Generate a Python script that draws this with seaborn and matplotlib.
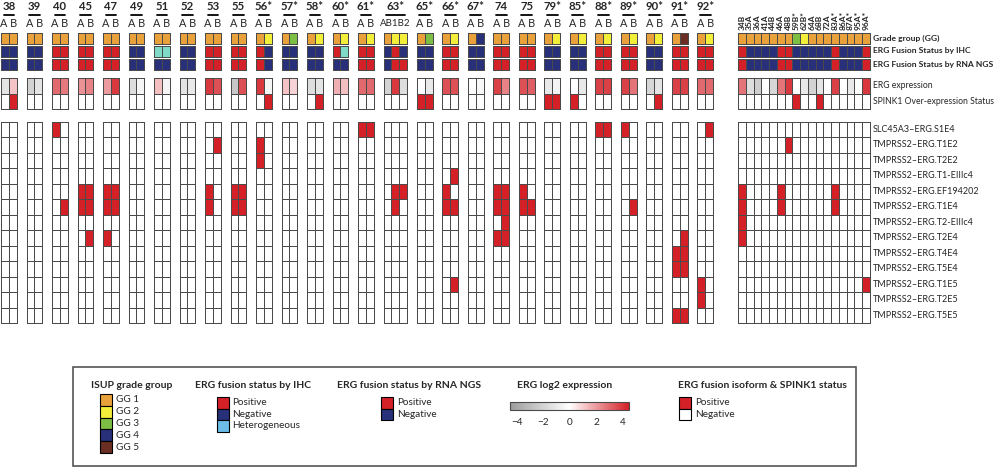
import numpy as np
import matplotlib
matplotlib.use("Agg")
import matplotlib.pyplot as plt
import seaborn as sns
from matplotlib.colors import ListedColormap, LinearSegmentedColormap, Normalize
from matplotlib.patches import Rectangle
from matplotlib.lines import Line2D
import matplotlib.cm as cm

sns.set_style("white")
plt.rcParams['font.family'] = ['Lato', 'DejaVu Sans']

# ---------------- data ----------------
group_names = ["38", "39", "40", "45", "47", "49", "51", "52", "53", "55", "56*", "57*", "58*",
               "60*", "61*", "63*", "65*", "66*", "67*", "74", "75", "79*", "85*", "88*", "89*",
               "90*", "91*", "92*"]
group_subs = [["A", "B"]] * 15 + [["A", "B1", "B2"]] + [["A", "B"]] * 12

group_gg = [[1, 1], [1, 1], [1, 1], [1, 1], [1, 1], [1, 1], [1, 1], [1, 1], [1, 1], [1, 1],
            [1, 2], [1, 3], [1, 2], [1, 2], [1, 2], [1, 2, 2], [1, 3], [1, 2], [1, 4], [1, 1],
            [1, 1], [1, 2], [1, 2], [1, 2], [1, 2], [1, 2], [1, 5], [1, 2]]
group_ihc = ["NN", "NN", "PP", "PP", "PP", "NN", "HH", "NN", "PP", "PP", "PN", "NN", "NN",
             "PH", "PP", "NPN", "NN", "PP", "NN", "PP", "PP", "NN", "NN", "PP", "PP", "NN", "PP", "PP"]
group_ngs = ["NN", "NN", "PP", "PP", "PP", "NN", "NN", "NN", "PP", "PP", "PN", "NN", "NN",
             "NN", "PP", "NPP", "NN", "PP", "NN", "PP", "PP", "NN", "NN", "PP", "PP", "NN", "PP", "PP"]
group_erg = [[-1.2, 1.2], [-2.0, -1.2], [3.0, 2.7], [2.2, 2.5], [2.0, 4.0], [-1.5, -0.4],
             [1.3, -0.5], [-1.2, -1.0], [4.0, 3.5], [-2.5, 3.5], [4.0, -0.4], [1.2, 0.9],
             [-1.5, -1.2], [1.6, 1.3], [3.0, 3.0], [-2.0, 4.0, -1.5], [0.0, -1.0], [3.5, 3.5],
             [0.0, -0.3], [3.8, 2.5], [3.5, 3.2], [-1.0, -0.5], [0.0, -1.0], [3.8, 3.8],
             [3.8, 2.8], [-1.8, -1.2], [3.8, 3.8], [3.0, 3.0]]

single_samples = ["34B", "35A", "36A", "41A", "44B", "46A", "48B", "59B*", "62B*", "64A", "68B",
                  "72A", "83A*", "86A*", "87A*", "95A*", "96A*"]
single_gg = [1, 1, 1, 1, 1, 1, 1, 3, 2, 1, 1, 1, 1, 1, 1, 1, 1]
single_ihc = "PNNNNPPNNNNNPNNNP"
single_ngs = "PNNNNPPNNNNNPNNNP"
single_erg = [2.8, -1.5, -2.2, 0.0, -1.8, 2.8, 4.0, 0.0, -1.0, -2.0, -1.2, 0.0, 3.8, 0.0,
              -1.0, 0.0, 4.0]

spink1_positive = ["38B", "56B", "58B", "65A", "65B", "79A", "79B", "85A", "90B", "59B", "68B"]

fusion_names = ["SLC45A3\u2013ERG.S1E4", "TMPRSS2\u2013ERG.T1E2", "TMPRSS2\u2013ERG.T2E2",
                "TMPRSS2\u2013ERG.T1-EIIIc4", "TMPRSS2\u2013ERG.EF194202", "TMPRSS2\u2013ERG.T1E4",
                "TMPRSS2\u2013ERG.T2-EIIIc4", "TMPRSS2\u2013ERG.T2E4", "TMPRSS2\u2013ERG.T4E4",
                "TMPRSS2\u2013ERG.T5E4", "TMPRSS2\u2013ERG.T1E5", "TMPRSS2\u2013ERG.T2E5",
                "TMPRSS2\u2013ERG.T5E5"]
fusion_hits = {  # sample -> fusion rows (1-based) that are positive
    "40A": [1], "40B": [6], "45A": [5, 6], "45B": [5, 6, 8], "47A": [5, 6, 8], "47B": [5, 6],
    "53A": [5, 6], "53B": [2], "55A": [5, 6], "55B": [5, 6], "56A": [2, 3], "61A": [1],
    "61B": [1], "63B1": [5, 6], "63B2": [5], "66A": [5, 6], "66B": [4, 6, 11],
    "74A": [5, 6, 8], "74B": [5, 6, 7, 8], "75A": [5, 6], "75B": [6], "88A": [1], "88B": [1],
    "89A": [1], "89B": [6], "91A": [9, 10, 13], "91B": [8, 9, 10, 13], "92A": [11, 12],
    "92B": [1], "34B": [5, 6, 7, 8], "46A": [5, 6], "48B": [2], "83A": [5, 6], "96A": [11],
}

row_labels_top = ["Grade group (GG)", "ERG Fusion Status by IHC", "ERG Fusion Status by RNA NGS"]
row_labels_expr = ["ERG expression", "SPINK1 Over-expression Status"]

gg_legend = ["GG 1", "GG 2", "GG 3", "GG 4", "GG 5"]
ihc_legend = ["Positive", "Negative", "Heterogeneous"]
ngs_legend = ["Positive", "Negative"]
iso_legend = ["Positive", "Negative"]
cbar_ticks = [-4, -2, 0, 2, 4]

# ---------------- styles ----------------
GG_COL = ["#E9A23B", "#F2EE3A", "#7DBE45", "#28307A", "#6A2F22"]
RED = "#D42027"
NAVY = "#28307A"
HET = "#7FDAC8"
HET_LEG = "#6BBDE8"
EDGE = "#4a4a4a"
LW = 0.55
top_cmap = ListedColormap(GG_COL + [RED, NAVY, HET])
status_code = {"P": 5, "N": 6, "H": 7}
expr_cmap = LinearSegmentedColormap.from_list("erg", [(0, "#9c9c9c"), (0.5, "#ffffff"), (1, RED)])
EXPR_MIN, EXPR_MAX = -4.5, 4.5
fus_cmap = ListedColormap(["#ffffff", RED])

W, H = 1000, 468
fig = plt.figure(figsize=(10, 4.68), dpi=100)

def add_ax(x0, y0, x1, y1):
    ax = fig.add_axes([x0 / W, 1 - y1 / H, (x1 - x0) / W, (y1 - y0) / H])
    return ax

def heat(ax, mat, cmap, vmin, vmax):
    sns.heatmap(np.asarray(mat, dtype=float), ax=ax, cmap=cmap, vmin=vmin, vmax=vmax, cbar=False,
                linewidths=LW, linecolor=EDGE, xticklabels=False, yticklabels=False)
    for c in ax.collections:
        c.set_clip_on(False)
    ax.set_xlabel("")
    ax.set_ylabel("")

TOP_ROWS = [(32.5, 43.5), (45.5, 56.5), (58.5, 69.5)]
EXPR_Y = (78.0, 109.0)
FUS_Y = (121.5, 323.0)
CELL_W = 7.85
GAP = 9.8
X0 = 1.0
RIGHT_X = (738.0, 870.0)

ov = fig.add_axes([0, 0, 1, 1])
ov.set_xlim(0, W)
ov.set_ylim(H, 0)
ov.axis("off")
ov.set_zorder(5)

def draw_block(x0, x1, keys, gg, ihc, ngs, erg):
    n = len(keys)
    rows = [[g - 1 for g in gg], [status_code[s] for s in ihc], [status_code[s] for s in ngs]]
    for (y0, y1), r in zip(TOP_ROWS, rows):
        heat(add_ax(x0, y0, x1, y1), [r], top_cmap, -0.5, 7.5)
    spink = [EXPR_MAX if k in spink1_positive else 0.0 for k in keys]
    heat(add_ax(x0, EXPR_Y[0], x1, EXPR_Y[1]), [erg, spink], expr_cmap, EXPR_MIN, EXPR_MAX)
    fmat = np.zeros((len(fusion_names), n))
    for j, k in enumerate(keys):
        for r in fusion_hits.get(k, []):
            fmat[r - 1, j] = 1
    heat(add_ax(x0, FUS_Y[0], x1, FUS_Y[1]), fmat, fus_cmap, 0, 1)

x = X0
for gname, subs, gg, ihc, ngs, erg in zip(group_names, group_subs, group_gg, group_ihc,
                                         group_ngs, group_erg):
    n = len(subs)
    x1 = x + n * CELL_W
    keys = [gname.rstrip("*") + s for s in subs]
    draw_block(x, x1, keys, gg, ihc, ngs, erg)
    ov.text((x + x1) / 2, 7.0, gname, ha="center", va="center", fontsize=8.2, fontweight="bold")
    ov.add_line(Line2D([x + 2.5, x1 - 2.5], [15, 15], color="black", lw=1.3))
    ov.text((x + x1) / 2, 23.5, " ".join(subs) if n == 2 else "".join(subs),
            ha="center", va="center", fontsize=7.8 if n == 2 else 7.0)
    x = x1 + GAP

# right block of single samples
keys = [s.rstrip("*") for s in single_samples]
draw_block(RIGHT_X[0], RIGHT_X[1], keys, single_gg, single_ihc, single_ngs, single_erg)
cw = (RIGHT_X[1] - RIGHT_X[0]) / len(single_samples)
for j, s in enumerate(single_samples):
    ov.text(RIGHT_X[0] + (j + 0.5) * cw, 30, s, rotation=90, ha="center", va="bottom",
            fontsize=6.0, fontweight="bold")

LX = 873
for (y0, y1), lab in zip(TOP_ROWS, row_labels_top):
    ov.text(LX, (y0 + y1) / 2, lab, ha="left", va="center", fontsize=6.1, fontweight="bold")
eh = (EXPR_Y[1] - EXPR_Y[0]) / 2
for i, lab in enumerate(row_labels_expr):
    ov.text(LX, EXPR_Y[0] + (i + 0.5) * eh, lab, ha="left", va="center", fontsize=6.2)
fh = (FUS_Y[1] - FUS_Y[0]) / len(fusion_names)
for i, lab in enumerate(fusion_names):
    ov.text(LX, FUS_Y[0] + (i + 0.5) * fh, lab, ha="left", va="center", fontsize=6.5)

# ---------------- legend ----------------
ov.add_patch(Rectangle((72.5, 367), 783.5, 99, fill=False, ec="#555555", lw=1.2))

def swatches(xs, y0, h, colors, labels, title, tx):
    ov.text(tx, 385, title, ha="left", va="center", fontsize=7.5, fontweight="bold")
    for i, (c, lab) in enumerate(zip(colors, labels)):
        ov.add_patch(Rectangle((xs, y0 + i * h), 12, h, fc=c, ec="black", lw=0.8))
        ov.text(xs + 16, y0 + (i + 0.5) * h, lab, ha="left", va="center", fontsize=7.2)

swatches(99.5, 394, 11.8, GG_COL, gg_legend, "ISUP grade group", 91)
swatches(216.5, 397, 11.5, [RED, NAVY, HET_LEG], ihc_legend, "ERG fusion status by IHC", 195)
swatches(381, 397, 11.5, [RED, NAVY], ngs_legend, "ERG fusion status by RNA NGS", 337)
swatches(679, 397, 11.5, [RED, "#ffffff"], iso_legend, "ERG fusion isoform & SPINK1 status", 678)
ov.text(565, 385, "ERG log2 expression", ha="center", va="center", fontsize=7.5, fontweight="bold")

cax = add_ax(510, 402, 629, 410)
sm = cm.ScalarMappable(norm=Normalize(EXPR_MIN, EXPR_MAX), cmap=expr_cmap)
cb = fig.colorbar(sm, cax=cax, orientation="horizontal", ticks=cbar_ticks)
cb.ax.set_xticklabels(["\u22124", "\u22122", "0", "2", "4"])
cb.ax.tick_params(length=0, pad=6, labelsize=7.2)
cb.outline.set_edgecolor(EDGE)
cb.outline.set_linewidth(0.8)

fig.savefig("out.png", dpi=100)
